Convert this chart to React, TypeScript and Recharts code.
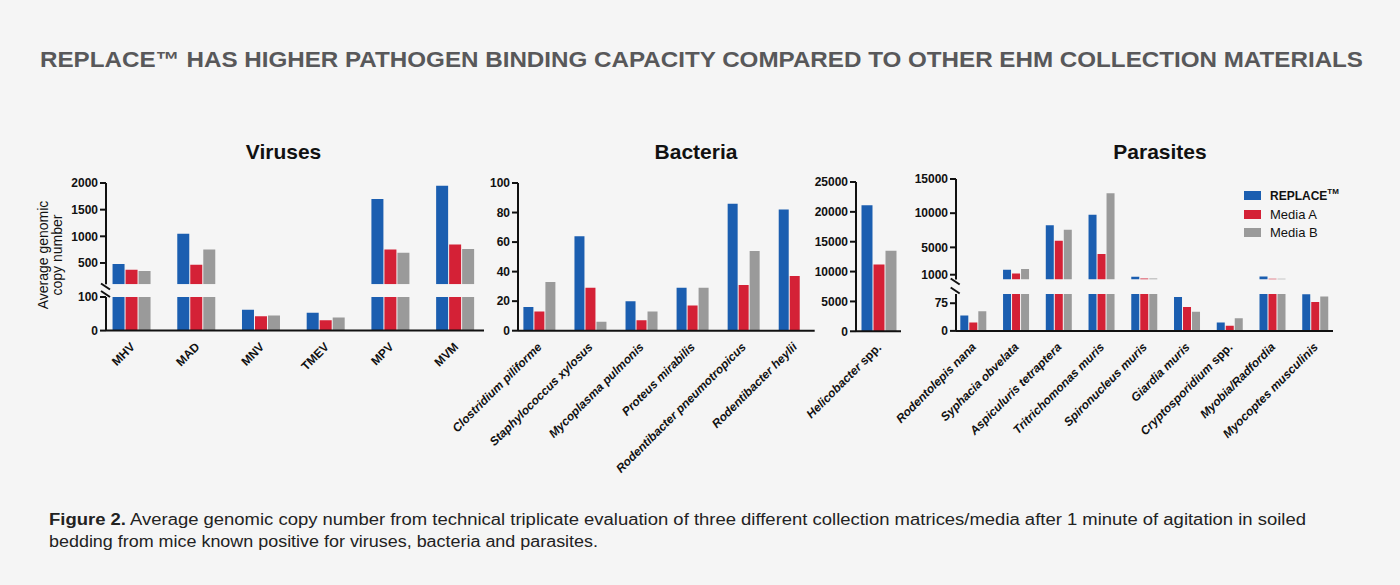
import React from "react";
import { Bar, BarChart, Legend, XAxis, YAxis } from "recharts";

const BLUE = "#1b5eb0";
const RED = "#d42136";
const GRAY = "#9a9a9a";
const INK = "#111";
const FONT = '"Liberation Sans", Arial, Helvetica, sans-serif';

// ---- data ----
const virusNames = ["MHV", "MAD", "MNV", "TMEV", "MPV", "MVM"];
const virusReplace = [480, 1050, 62, 53, 1700, 1950];
const virusMediaA = [375, 465, 43, 31, 755, 845];
const virusMediaB = [350, 755, 45, 39, 690, 762];
const virusUpperTicks = [500, 1000, 1500, 2000];
const virusLowerTicks = [0, 100];

const bacteriaNames = [
  "Clostridium piliforme",
  "Staphylococcus xylosus",
  "Mycoplasma pulmonis",
  "Proteus mirabilis",
  "Rodentibacter pneumotropicus",
  "Rodentibacter heylii",
];
const bacteriaReplace = [16, 64, 20, 29, 86, 82];
const bacteriaMediaA = [13, 29, 7, 17, 31, 37];
const bacteriaMediaB = [33, 6, 13, 29, 54, 0];
const bacteriaTicks = [0, 20, 40, 60, 80, 100];

const helicoNames = ["Helicobacter spp."];
const helicoReplace = [21100];
const helicoMediaA = [11200];
const helicoMediaB = [13500];
const helicoTicks = [0, 5000, 10000, 15000, 20000, 25000];

const parasiteNames = [
  "Rodentolepis nana",
  "Syphacia obvelata",
  "Aspiculuris tetraptera",
  "Tritrichomonas muris",
  "Spironucleus muris",
  "Giardia muris",
  "Cryptosporidium spp.",
  "Myobia/Radfordia",
  "Myocoptes musculinis",
];
const parasiteReplace = [42, 1730, 8220, 9760, 690, 92, 23, 750, 99];
const parasiteMediaA = [23, 1195, 5975, 4025, 450, 65, 14, 400, 78];
const parasiteMediaB = [53, 1830, 7585, 12930, 450, 52, 34, 400, 93];
const parasiteUpperTicks = [1000, 5000, 10000, 15000];
const parasiteLowerTicks = [0, 75];

const seriesOrder = ["replace", "mediaA", "mediaB"];

const BREAK = 100; // values above this continue in the upper segment

type Row = { name: string; replace: number | null; mediaA: number | null; mediaB: number | null };

function buildRows(
  names: string[],
  a: number[],
  b: number[],
  c: number[],
  pick: (v: number) => number | null = (v) => v
): Row[] {
  return names.map((name, i) => ({
    name,
    replace: pick(a[i]),
    mediaA: pick(b[i]),
    mediaB: pick(c[i]),
  }));
}
const upper = (v: number) => (v > BREAK ? v : null);
const lower = (v: number) => Math.min(v, BREAK);

function SlantTick(props: any) {
  const { x, y, payload, italic } = props;
  const label = String(payload.value);
  const spp = label.endsWith(" spp.");
  const head = spp ? label.slice(0, -5) : label;
  return (
    <g transform={`translate(${x + 3.5},${y + 17})`}>
      <text
        transform="rotate(-45)"
        textAnchor="end"
        fontSize={12}
        fontWeight="bold"
        fontFamily={FONT}
        fill={INK}
      >
        <tspan fontStyle={italic ? "italic" : "normal"}>{head}</tspan>
        {spp && <tspan fontStyle="normal"> spp.</tspan>}
      </text>
    </g>
  );
}

function LegendContent(props: any) {
  const items = [...(props.payload || [])].sort(
    (a: any, b: any) => seriesOrder.indexOf(a.dataKey) - seriesOrder.indexOf(b.dataKey)
  );
  return (
    <div style={{ fontFamily: FONT, color: INK }}>
      {items.map((it: any) => (
        <div key={it.dataKey} style={{ display: "flex", alignItems: "center", height: 18.8 }}>
          <span style={{ width: 17, height: 9, background: it.color, marginRight: 9 }} />
          {it.dataKey === "replace" ? (
            <span style={{ fontSize: 12, fontWeight: "bold" }}>
              REPLACE<sup style={{ fontSize: 8, verticalAlign: 6 }}>TM</sup>
            </span>
          ) : (
            <span style={{ fontSize: 13 }}>{it.value}</span>
          )}
        </div>
      ))}
    </div>
  );
}

type SegProps = {
  rows: Row[];
  left: number; // y-axis line x
  top: number; // plot top
  width: number;
  height: number;
  domain: [number, number];
  ticks: number[];
  padL?: number;
  padR?: number;
  gap: number;
  showX?: boolean;
  italic?: boolean;
  legendAt?: { x: number; y: number };
};

function SegmentChart(p: SegProps) {
  const yw = 110; // wide enough that slanted labels are not clipped on the left
  const mt = 12;
  const mr = 12;
  const mb = p.showX ? 0 : 8;
  const xh = p.showX ? 150 : 0;
  const W = yw + p.width + mr;
  const H = mt + p.height + xh + mb;
  const cx = p.left - yw;
  const cy = p.top - mt;
  const axis = { stroke: INK, strokeWidth: 2 };
  return (
    <div style={{ position: "absolute", left: cx, top: cy }}>
      <BarChart
        width={W}
        height={H}
        data={p.rows}
        margin={{ top: mt, right: mr, bottom: mb, left: 0 }}
        barCategoryGap={p.gap}
        barGap={1}
      >
        <XAxis
          dataKey="name"
          hide={!p.showX}
          height={xh}
          interval={0}
          padding={{ left: p.padL ?? 0, right: p.padR ?? 0 }}
          axisLine={axis}
          tickLine={false}
          tickSize={0}
          tickMargin={0}
          tick={<SlantTick italic={p.italic} />}
        />
        <YAxis
          type="number"
          width={yw}
          domain={p.domain}
          ticks={p.ticks}
          interval={0}
          allowDataOverflow
          axisLine={axis}
          tickLine={axis}
          tickSize={6}
          tickMargin={2}
          tick={{ fontSize: 12, fontWeight: "bold", fill: INK, fontFamily: FONT }}
        />
        <Bar dataKey="replace" name="REPLACE™" fill={BLUE} isAnimationActive={false} />
        <Bar dataKey="mediaA" name="Media A" fill={RED} isAnimationActive={false} />
        <Bar dataKey="mediaB" name="Media B" fill={GRAY} isAnimationActive={false} />
        {p.legendAt && (
          <Legend
            layout="vertical"
            align="center"
            verticalAlign="middle"
            content={<LegendContent />}
            wrapperStyle={{ left: p.legendAt.x - cx, top: p.legendAt.y - cy, width: "auto" }}
          />
        )}
      </BarChart>
    </div>
  );
}

function BreakMarks({ x, y1, y2 }: { x: number; y1: number; y2: number }) {
  return (
    <g stroke={INK} strokeWidth={2}>
      <line x1={x - 5} y1={y1 - 3} x2={x + 4} y2={y1 + 3} />
      <line x1={x - 5} y1={y2 - 3} x2={x + 4} y2={y2 + 3} />
    </g>
  );
}

export default function App() {
  return (
    <div
      style={{
        position: "absolute",
        left: 0,
        top: 0,
        width: 1400,
        height: 585,
        background: "#f5f5f5",
        overflow: "hidden",
        fontFamily: FONT,
      }}
    >
      <svg width={1400} height={585} style={{ position: "absolute", left: 0, top: 0 }}>
        <text
          x={40}
          y={67}
          fontSize={22}
          fontWeight="bold"
          fill="#58585a"
          fontFamily={FONT}
          textLength={1323}
          lengthAdjust="spacingAndGlyphs"
        >
          REPLACE™ HAS HIGHER PATHOGEN BINDING CAPACITY COMPARED TO OTHER EHM COLLECTION MATERIALS
        </text>
        <g fontSize={21} fontWeight="bold" fill={INK} fontFamily={FONT} textAnchor="middle">
          <text x={283.5} y={159}>Viruses</text>
          <text x={696} y={159}>Bacteria</text>
          <text x={1160} y={159}>Parasites</text>
        </g>
        <g fontSize={14} fill={INK} fontFamily={FONT} textAnchor="middle">
          <text transform="translate(48,255) rotate(-90)">Average genomic</text>
          <text transform="translate(62,255) rotate(-90)">copy number</text>
        </g>
        <BreakMarks x={106} y1={286.5} y2={294} />
        <BreakMarks x={955.7} y1={281.5} y2={290.5} />
        <g fontSize={16} fill="#222" fontFamily={FONT}>
          <text x={49} y={525} textLength={1257} lengthAdjust="spacingAndGlyphs">
            <tspan fontWeight="bold">Figure 2.</tspan> Average genomic copy number from technical
            triplicate evaluation of three different collection matrices/media after 1 minute of
            agitation in soiled
          </text>
          <text x={49} y={547} textLength={549} lengthAdjust="spacingAndGlyphs">
            bedding from mice known positive for viruses, bacteria and parasites.
          </text>
        </g>
      </svg>

      {/* Viruses: broken axis */}
      <SegmentChart
        rows={buildRows(virusNames, virusReplace, virusMediaA, virusMediaB, upper)}
        left={106}
        top={183.3}
        width={378}
        height={101.3}
        domain={[100, 2000]}
        ticks={virusUpperTicks}
        padL={-6.3}
        padR={-4}
        gap={12.85}
      />
      <SegmentChart
        rows={buildRows(virusNames, virusReplace, virusMediaA, virusMediaB, lower)}
        left={106}
        top={296.7}
        width={378}
        height={33.6}
        domain={[0, 100]}
        ticks={virusLowerTicks}
        padL={-6.3}
        padR={-4}
        gap={12.85}
        showX
      />

      {/* Bacteria */}
      <SegmentChart
        rows={buildRows(bacteriaNames, bacteriaReplace, bacteriaMediaA, bacteriaMediaB)}
        left={518.3}
        top={183.3}
        width={296.7}
        height={147.7}
        domain={[0, 100]}
        ticks={bacteriaTicks}
        padL={-4.6}
        padR={-5.1}
        gap={10}
        showX
        italic
      />
      <SegmentChart
        rows={buildRows(helicoNames, helicoReplace, helicoMediaA, helicoMediaB)}
        left={856}
        top={181.7}
        width={45}
        height={149.3}
        domain={[0, 25000]}
        ticks={helicoTicks}
        gap={5.5}
        showX
        italic
      />

      {/* Parasites: broken axis */}
      <SegmentChart
        rows={buildRows(parasiteNames, parasiteReplace, parasiteMediaA, parasiteMediaB, upper)}
        left={955.7}
        top={179.3}
        width={377}
        height={100.5}
        domain={[300, 15000]}
        ticks={parasiteUpperTicks}
        padL={-4.1}
        padR={-3.6}
        gap={8.4}
        legendAt={{ x: 1244, y: 186 }}
      />
      <SegmentChart
        rows={buildRows(parasiteNames, parasiteReplace, parasiteMediaA, parasiteMediaB, lower)}
        left={955.7}
        top={294.1}
        width={377}
        height={36.9}
        domain={[0, 100]}
        ticks={parasiteLowerTicks}
        padL={-4.1}
        padR={-3.6}
        gap={8.4}
        showX
        italic
      />
    </div>
  );
}
